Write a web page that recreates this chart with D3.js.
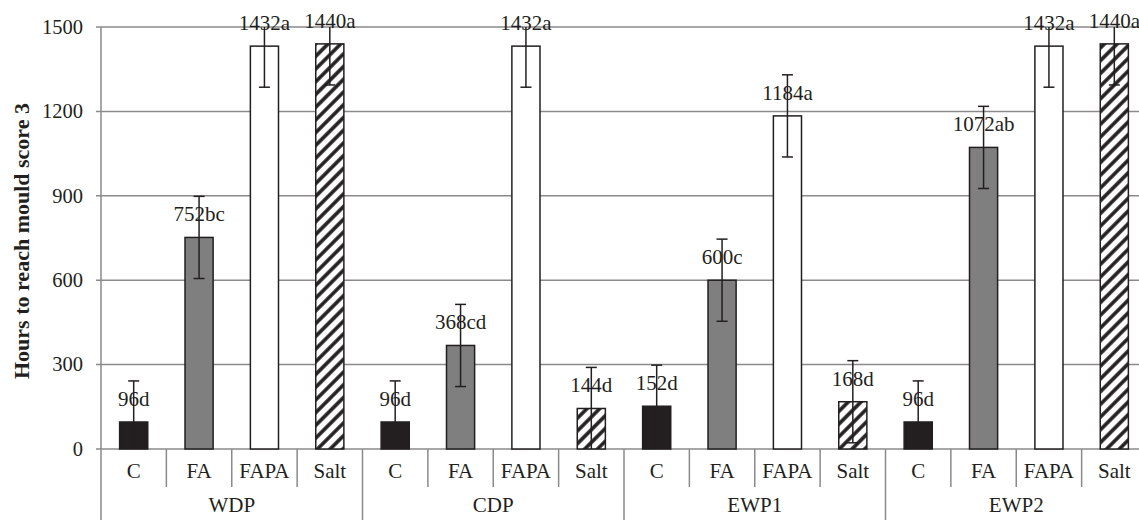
<!DOCTYPE html>
<html lang="en">
<head>
<meta charset="utf-8">
<title>Mould score</title>
<script src="https://cdn.jsdelivr.net/npm/d3@7"></script>
<style>
  body { margin: 0; background: white; }
  svg { display: block; }
  text { font-family: "Liberation Serif", "Times New Roman", Times, serif; }
</style>
</head>
<body>
<script>
// data
var groups = ["WDP", "CDP", "EWP1", "EWP2"];
var treatments = ["C", "FA", "FAPA", "Salt"];
var values = [96, 752, 1432, 1440, 96, 368, 1432, 144, 152, 600, 1184, 168, 96, 1072, 1432, 1440];
var errors = [146, 146, 146, 146, 146, 146, 146, 146, 146, 146, 146, 146, 146, 146, 146, 146];
var letters = ["d", "bc", "a", "a", "d", "cd", "a", "d", "d", "c", "a", "d", "d", "ab", "a", "a"];
var yTicks = [0, 300, 600, 900, 1200, 1500];

var width = 1139, height = 520;
var plotL = 101, plotR = 1147, plotT = 27, plotB = 449;

var svg = d3.select("body").append("svg")
    .attr("width", width)
    .attr("height", height);

var defs = svg.append("defs");
var hatch = defs.append("pattern")
    .attr("id", "hatch")
    .attr("patternUnits", "userSpaceOnUse")
    .attr("width", 9).attr("height", 9)
    .attr("patternTransform", "rotate(45)");
hatch.append("rect").attr("width", 9).attr("height", 9).attr("fill", "white");
hatch.append("line").attr("x1", 2).attr("x2", 2).attr("y1", 0).attr("y2", 9)
    .attr("stroke", "#231f20").attr("stroke-width", 3.6);

defs.append("clipPath").attr("id", "plot")
  .append("rect").attr("x", plotL - 20).attr("y", plotT).attr("width", plotR - plotL + 40).attr("height", plotB - plotT);

var data = values.map(function(v, i) {
    return {
        key: groups[Math.floor(i / 4)] + "-" + treatments[i % 4],
        group: groups[Math.floor(i / 4)],
        treat: treatments[i % 4],
        value: v, err: errors[i], letter: letters[i]
    };
});

var x = d3.scaleBand().domain(data.map(function(d) { return d.key; })).range([plotL, plotR]);
var xg = d3.scaleBand().domain(groups).range([plotL, plotR]);
var y = d3.scaleLinear().domain([0, 1500]).range([plotB, plotT]);

var fills = { "C": "#231f20", "FA": "#7f7f7f", "FAPA": "#ffffff", "Salt": "url(#hatch)" };
var barW = x.bandwidth() * 0.43;

// gridlines
svg.append("g").selectAll("line").data(yTicks).enter().append("line")
    .attr("x1", plotL - 5).attr("x2", plotR)
    .attr("y1", function(d) { return y(d); }).attr("y2", function(d) { return y(d); })
    .attr("stroke", "#8a8a8a").attr("stroke-width", 1.5);

// y axis line
svg.append("line").attr("x1", plotL).attr("x2", plotL).attr("y1", plotT).attr("y2", height)
    .attr("stroke", "#8a8a8a").attr("stroke-width", 1.5);

// y tick labels
svg.append("g").selectAll("text").data(yTicks).enter().append("text")
    .attr("x", 83).attr("y", function(d) { return y(d); })
    .attr("dy", "0.33em").attr("text-anchor", "end")
    .attr("font-size", 20.5).attr("fill", "#231f20")
    .text(function(d) { return d; });

// category separators
svg.append("g").selectAll("line").data(data).enter().append("line")
    .attr("x1", function(d) { return x(d.key) + x.bandwidth(); })
    .attr("x2", function(d) { return x(d.key) + x.bandwidth(); })
    .attr("y1", plotB)
    .attr("y2", function(d) { return d.treat === "Salt" ? height : 487; })
    .attr("stroke", "#8a8a8a").attr("stroke-width", 1.5);

// category labels
svg.append("g").selectAll("text").data(data).enter().append("text")
    .attr("x", function(d) { return x(d.key) + x.bandwidth() / 2; })
    .attr("y", 478).attr("text-anchor", "middle")
    .attr("font-size", 21).attr("fill", "#231f20")
    .text(function(d) { return d.treat; });

// group labels
svg.append("g").selectAll("text").data(groups).enter().append("text")
    .attr("x", function(d) { return xg(d) + xg.bandwidth() / 2; })
    .attr("y", 512).attr("text-anchor", "middle")
    .attr("font-size", 21).attr("fill", "#231f20")
    .text(function(d) { return d; });

// bars
svg.append("g").selectAll("rect").data(data).enter().append("rect")
    .attr("x", function(d) { return x(d.key) + (x.bandwidth() - barW) / 2; })
    .attr("y", function(d) { return y(d.value); })
    .attr("width", barW)
    .attr("height", function(d) { return plotB - y(d.value); })
    .attr("fill", function(d) { return fills[d.treat]; })
    .attr("stroke", "#231f20").attr("stroke-width", 1.5);

// error bars
var eb = svg.append("g").attr("clip-path", "url(#plot)")
    .selectAll("g").data(data).enter().append("g")
    .attr("transform", function(d) { return "translate(" + (x(d.key) + x.bandwidth() / 2) + ",0)"; });
eb.append("line")
    .attr("y1", function(d) { return y(d.value - d.err); })
    .attr("y2", function(d) { return y(d.value + d.err); })
    .attr("stroke", "#231f20").attr("stroke-width", 1.5);
eb.selectAll(".cap").data(function(d) { return [d.value - d.err, d.value + d.err]; })
  .enter().append("line").attr("class", "cap")
    .attr("x1", -5.5).attr("x2", 5.5)
    .attr("y1", function(v) { return y(v); }).attr("y2", function(v) { return y(v); })
    .attr("stroke", "#231f20").attr("stroke-width", 1.5);

// value labels
svg.append("g").selectAll("text").data(data).enter().append("text")
    .attr("x", function(d) { return x(d.key) + x.bandwidth() / 2; })
    .attr("y", function(d) { return y(d.value) - 16; })
    .attr("text-anchor", "middle")
    .attr("font-size", 21).attr("fill", "#231f20")
    .text(function(d) { return d.value + d.letter; });

// y axis title
svg.append("text")
    .attr("transform", "translate(29," + ((plotT + plotB) / 2 + 3) + ") rotate(-90)")
    .attr("text-anchor", "middle")
    .attr("font-size", 22).attr("font-weight", "bold").attr("fill", "#231f20")
    .text("Hours to reach mould score 3");
</script>
</body>
</html>
